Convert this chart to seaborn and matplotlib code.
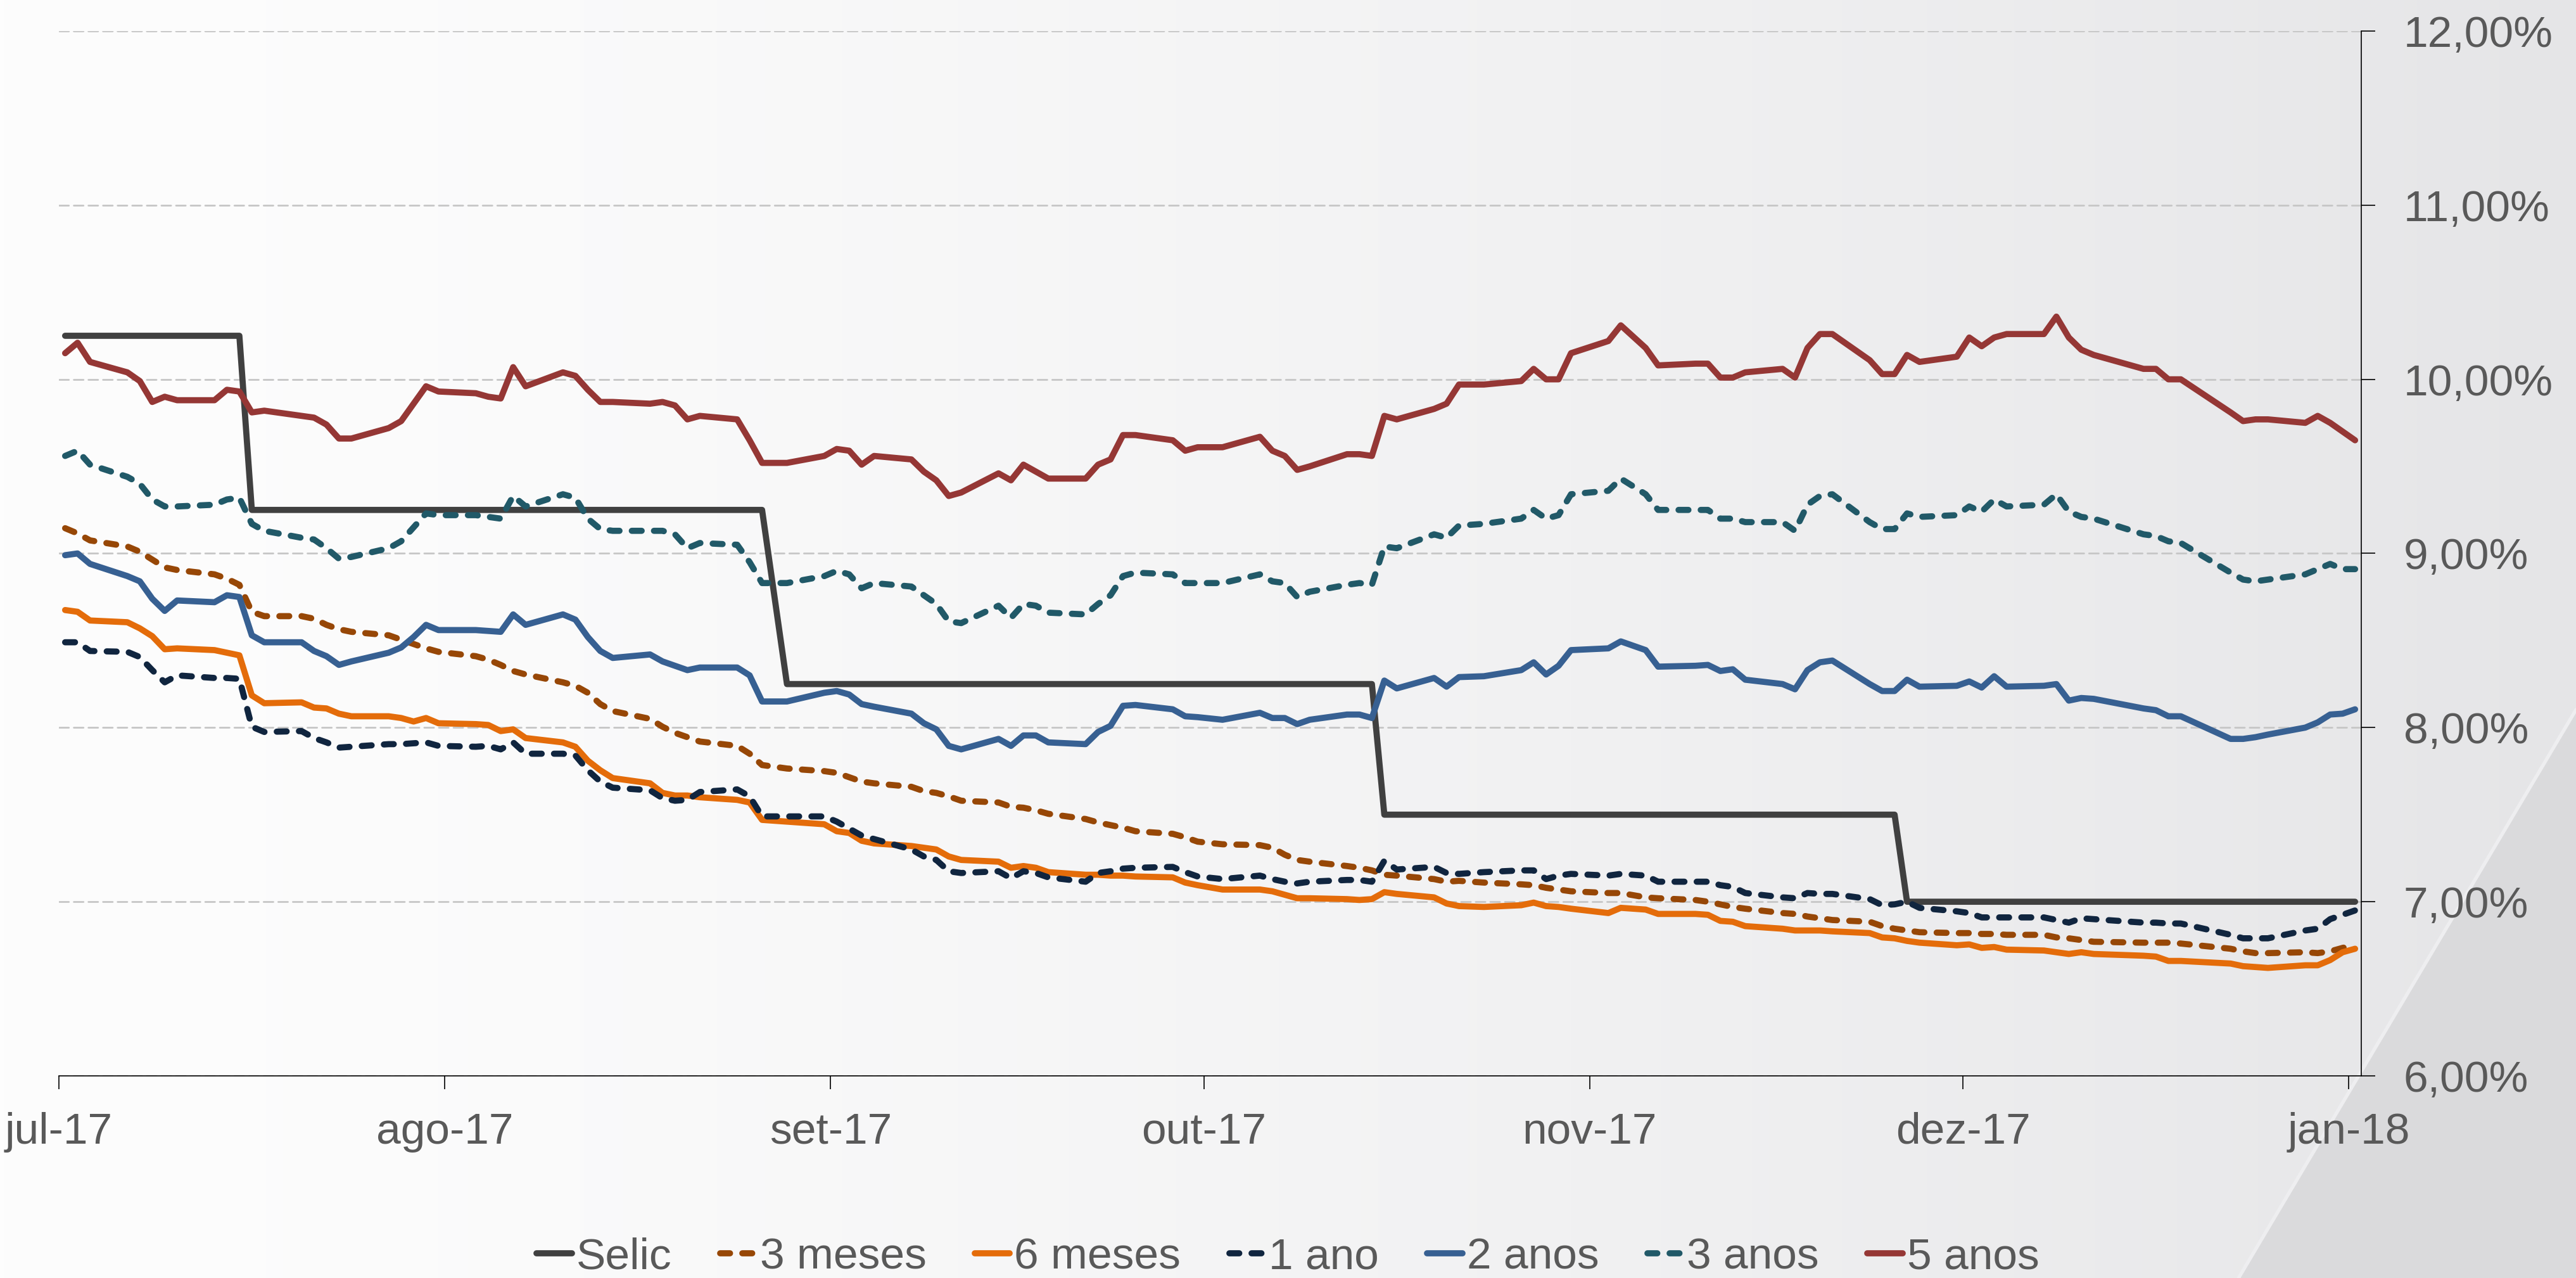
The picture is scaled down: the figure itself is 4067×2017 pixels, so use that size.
import matplotlib
matplotlib.use("Agg")
import matplotlib.pyplot as plt
from matplotlib.ticker import FuncFormatter
from matplotlib.patches import Polygon
import numpy as np
import pandas as pd
import seaborn as sns

# periodo (dias uteis) e feriados
inicio = "2017-07-12"
fim = "2018-01-12"
feriados = ["2017-09-07", "2017-10-12", "2017-11-02", "2017-11-15", "2017-12-25", "2018-01-01"]

# Selic: inicio de vigencia e taxa
selic_inicio = ["2017-07-12", "2017-07-27", "2017-09-08", "2017-10-26", "2017-12-07"]
selic_taxa = [10.25, 9.25, 8.25, 7.50, 7.00]

# taxas diarias, uma linha por semana
taxa_3m = [9.145, 9.115, 9.075,
           9.04, 9.01, 8.965, 8.92, 8.905,
           8.88, 8.855, 8.82, 8.665, 8.64,
           8.64, 8.625, 8.59, 8.565, 8.55,
           8.53, 8.505, 8.48, 8.455, 8.435,
           8.41, 8.39, 8.36, 8.325, 8.305,
           8.26, 8.24, 8.20, 8.135, 8.095,
           8.05, 8.005, 7.97, 7.945, 7.92,
           7.895, 7.85, 7.785, 7.765,
           7.75, 7.74, 7.715, 7.69, 7.68,
           7.66, 7.635, 7.625, 7.605, 7.58,
           7.57, 7.545, 7.54, 7.525, 7.505,
           7.475, 7.455, 7.44, 7.425, 7.405,
           7.39, 7.37, 7.345, 7.33,
           7.325, 7.31, 7.27, 7.24, 7.23,
           7.205, 7.195, 7.18, 7.155, 7.15,
           7.13, 7.115, 7.12, 7.11,
           7.10, 7.095, 7.08, 7.07, 7.06,
           7.05, 7.05, 7.025, 7.02,
           7.01, 7.00, 6.985, 6.97, 6.96,
           6.935, 6.93, 6.915, 6.905, 6.895,
           6.885, 6.86, 6.845, 6.835, 6.825,
           6.82, 6.82, 6.815, 6.815, 6.81,
           6.81, 6.795, 6.79, 6.78, 6.77,
           6.765, 6.765, 6.765, 6.76,
           6.73, 6.715, 6.705, 6.705,
           6.71, 6.705, 6.715, 6.735, 6.75]

taxa_6m = [8.675, 8.665, 8.615,
           8.605, 8.57, 8.525, 8.45, 8.455,
           8.445, 8.43, 8.415, 8.185, 8.14,
           8.145, 8.115, 8.11, 8.08, 8.065,
           8.065, 8.055, 8.035, 8.055, 8.025,
           8.02, 8.015, 7.98, 7.99, 7.94,
           7.915, 7.89, 7.81, 7.755, 7.71,
           7.68, 7.625, 7.61, 7.61, 7.60,
           7.585, 7.57, 7.47, 7.46,
           7.445, 7.405, 7.395, 7.35, 7.335,
           7.32, 7.31, 7.30, 7.26, 7.24,
           7.23, 7.195, 7.205, 7.195, 7.17,
           7.155, 7.155, 7.15, 7.15, 7.145,
           7.14, 7.11, 7.095, 7.07,
           7.07, 7.06, 7.04, 7.02, 7.02,
           7.015, 7.01, 7.015, 7.055, 7.045,
           7.025, 6.99, 6.975, 6.97,
           6.98, 6.995, 6.975, 6.97, 6.96,
           6.935, 6.965, 6.955, 6.93,
           6.93, 6.925, 6.89, 6.885, 6.86,
           6.845, 6.835, 6.835, 6.835, 6.83,
           6.82, 6.795, 6.79, 6.775, 6.765,
           6.75, 6.755, 6.735, 6.74, 6.725,
           6.72, 6.71, 6.70, 6.71, 6.70,
           6.69, 6.685, 6.66, 6.66,
           6.645, 6.63, 6.625, 6.62,
           6.635, 6.635, 6.665, 6.71, 6.73]

taxa_1a = [8.49, 8.49, 8.44,
           8.435, 8.405, 8.33, 8.26, 8.30,
           8.285, 8.285, 8.28, 8.005, 7.975,
           7.98, 7.94, 7.915, 7.885, 7.89,
           7.905, 7.905, 7.91, 7.915, 7.895,
           7.89, 7.895, 7.875, 7.915, 7.85,
           7.85, 7.84, 7.755, 7.69, 7.655,
           7.64, 7.595, 7.58, 7.585, 7.63,
           7.645, 7.605, 7.49, 7.49,
           7.49, 7.46, 7.42, 7.38, 7.36,
           7.30, 7.26, 7.24, 7.175, 7.165,
           7.175, 7.135, 7.175, 7.165, 7.14,
           7.115, 7.165, 7.175, 7.19, 7.195,
           7.20, 7.17, 7.145, 7.13,
           7.15, 7.13, 7.115, 7.105, 7.115,
           7.125, 7.125, 7.115, 7.235, 7.185,
           7.20, 7.165, 7.16, 7.17,
           7.18, 7.18, 7.13, 7.15, 7.16,
           7.15, 7.16, 7.15, 7.115,
           7.115, 7.115, 7.095, 7.085, 7.05,
           7.025, 7.02, 7.05, 7.045, 7.045,
           7.015, 6.98, 6.985, 7.00, 6.965,
           6.945, 6.935, 6.91, 6.91, 6.91,
           6.91, 6.895, 6.88, 6.905, 6.90,
           6.88, 6.88, 6.875, 6.875,
           6.81, 6.79, 6.79, 6.79,
           6.835, 6.845, 6.90, 6.925, 6.95]

taxa_2a = [8.99, 9.00, 8.94,
           8.87, 8.84, 8.74, 8.67, 8.73,
           8.72, 8.76, 8.75, 8.53, 8.49,
           8.49, 8.44, 8.41, 8.36, 8.38,
           8.43, 8.46, 8.52, 8.59, 8.56,
           8.56, 8.555, 8.55, 8.65, 8.59,
           8.65, 8.62, 8.52, 8.44, 8.40,
           8.42, 8.38, 8.355, 8.33, 8.345,
           8.345, 8.30, 8.15, 8.15,
           8.20, 8.21, 8.19, 8.135, 8.12,
           8.08, 8.025, 7.99, 7.895, 7.875,
           7.935, 7.895, 7.955, 7.955, 7.915,
           7.905, 7.975, 8.01, 8.125, 8.13,
           8.105, 8.065, 8.06, 8.045,
           8.085, 8.055, 8.055, 8.02, 8.045,
           8.075, 8.075, 8.055, 8.27, 8.225,
           8.285, 8.235, 8.29, 8.295,
           8.33, 8.375, 8.305, 8.355, 8.445,
           8.455, 8.495, 8.445, 8.35,
           8.355, 8.36, 8.325, 8.335, 8.275,
           8.25, 8.22, 8.33, 8.375, 8.385,
           8.25, 8.21, 8.21, 8.275, 8.235,
           8.24, 8.265, 8.23, 8.295, 8.235,
           8.24, 8.25, 8.155, 8.17, 8.165,
           8.11, 8.10, 8.065, 8.065,
           7.935, 7.935, 7.945, 7.96,
           8.00, 8.03, 8.075, 8.08, 8.105]

taxa_3a = [9.56, 9.59, 9.51,
           9.44, 9.40, 9.31, 9.27, 9.27,
           9.28, 9.31, 9.32, 9.17, 9.13,
           9.09, 9.08, 9.03, 8.97, 8.98,
           9.03, 9.07, 9.15, 9.23, 9.22,
           9.22, 9.21, 9.20, 9.33, 9.27,
           9.34, 9.32, 9.20, 9.14, 9.13,
           9.13, 9.13, 9.11, 9.03, 9.06,
           9.05, 8.95, 8.83, 8.83,
           8.87, 8.90, 8.88, 8.80, 8.83,
           8.81, 8.76, 8.71, 8.61, 8.60,
           8.70, 8.63, 8.71, 8.70, 8.66,
           8.65, 8.71, 8.76, 8.87, 8.89,
           8.88, 8.83, 8.83, 8.83,
           8.88, 8.84, 8.83, 8.75, 8.78,
           8.82, 8.83, 8.82, 9.04, 9.03,
           9.11, 9.09, 9.16, 9.17,
           9.20, 9.25, 9.20, 9.22, 9.34,
           9.36, 9.43, 9.34, 9.25,
           9.25, 9.25, 9.20, 9.20, 9.18,
           9.18, 9.13, 9.28, 9.33, 9.34,
           9.18, 9.14, 9.14, 9.23, 9.21,
           9.22, 9.27, 9.24, 9.31, 9.27,
           9.28, 9.34, 9.24, 9.21, 9.20,
           9.11, 9.10, 9.07, 9.06,
           8.89, 8.85, 8.84, 8.85,
           8.88, 8.91, 8.94, 8.91, 8.91]

taxa_5a = [10.15, 10.21, 10.10,
           10.04, 9.99, 9.87, 9.90, 9.88,
           9.88, 9.94, 9.93, 9.81, 9.82,
           9.79, 9.78, 9.74, 9.66, 9.66,
           9.72, 9.76, 9.86, 9.96, 9.93,
           9.92, 9.90, 9.89, 10.07, 9.96,
           10.04, 10.02, 9.94, 9.87, 9.87,
           9.86, 9.87, 9.85, 9.77, 9.79,
           9.77, 9.65, 9.52, 9.52,
           9.56, 9.60, 9.59, 9.51, 9.56,
           9.54, 9.47, 9.42, 9.33, 9.35,
           9.46, 9.42, 9.51, 9.47, 9.43,
           9.43, 9.51, 9.54, 9.68, 9.68,
           9.65, 9.59, 9.61, 9.61,
           9.67, 9.59, 9.56, 9.48, 9.50,
           9.57, 9.57, 9.56, 9.79, 9.77,
           9.83, 9.86, 9.97, 9.97,
           9.99, 10.06, 10.00, 10.00, 10.15,
           10.22, 10.31, 10.18, 10.08,
           10.09, 10.09, 10.01, 10.01, 10.04,
           10.06, 10.01, 10.18, 10.26, 10.26,
           10.11, 10.03, 10.03, 10.14, 10.10,
           10.13, 10.24, 10.19, 10.24, 10.26,
           10.26, 10.36, 10.24, 10.17, 10.14,
           10.06, 10.06, 10.00, 10.00,
           9.81, 9.76, 9.77, 9.77,
           9.75, 9.79, 9.75, 9.70, 9.65]

series = ["Selic", "3 meses", "6 meses", "1 ano", "2 anos", "3 anos", "5 anos"]
cores = ["#404040", "#974706", "#E46C0A", "#10253F", "#376092", "#215968", "#953735"]
tracos = ["", (1.6, 2.0), "", (1.6, 2.0), "", (1.6, 2.0), ""]

meses = ["jul-17", "ago-17", "set-17", "out-17", "nov-17", "dez-17", "jan-18"]
meses_pos = ["2017-07-12", "2017-08-12", "2017-09-12", "2017-10-12",
             "2017-11-12", "2017-12-12", "2018-01-12"]

# monta tabela longa
dias = pd.bdate_range(inicio, fim, freq="C", holidays=feriados)
selic = pd.Series(selic_taxa, index=pd.to_datetime(selic_inicio)).reindex(dias, method="ffill")
tab = pd.DataFrame({"data": dias + pd.Timedelta(hours=12),  # excel poe o ponto no meio do dia
                    "Selic": selic.values,
                    "3 meses": taxa_3m, "6 meses": taxa_6m, "1 ano": taxa_1a,
                    "2 anos": taxa_2a, "3 anos": taxa_3a, "5 anos": taxa_5a})
longo = tab.melt(id_vars="data", var_name="serie", value_name="taxa")

sns.set_style("white")
plt.rcParams["font.family"] = ["Liberation Sans", "DejaVu Sans"]
plt.rcParams["lines.solid_capstyle"] = "round"
plt.rcParams["lines.dash_capstyle"] = "round"
plt.rcParams["lines.solid_joinstyle"] = "round"
plt.rcParams["lines.dash_joinstyle"] = "round"

cinza_txt = "#595959"
larg = 7.0
fig = plt.figure(figsize=(40.67, 20.17), dpi=100)

# fundo com degrade e dobra no canto
fundo = fig.add_axes([0, 0, 1, 1], zorder=-10)
fundo.axis("off")
t = np.linspace(0, 1, 600) ** 1.4
c0 = np.array([253, 253, 253]) / 255
c1 = np.array([229, 229, 231]) / 255
grad = c0[None, :] + (c1 - c0)[None, :] * t[:, None]
fundo.imshow(grad[None, :, :], extent=[0, 1, 0, 1], aspect="auto", transform=fundo.transAxes)
fundo.add_patch(Polygon([(0.8690, 0), (1, 0), (1, 0.4447)], closed=True,
                        facecolor="#dadadc", edgecolor="none", transform=fundo.transAxes))
fundo.plot([0.8690, 1], [0, 0.4447], color="#eeeef0", lw=4, transform=fundo.transAxes)
fundo.set_xlim(0, 1)
fundo.set_ylim(0, 1)

ax = fig.add_axes([0.02287, 0.15816, 0.89378, 0.81755])
ax.patch.set_alpha(0)

sns.lineplot(data=longo, x="data", y="taxa", hue="serie", style="serie",
             hue_order=series, style_order=series, palette=cores,
             dashes=dict(zip(series, tracos)), linewidth=larg,
             estimator=None, sort=False, ax=ax)
for linha in ax.lines:
    linha.set_linewidth(larg)

ax.set_ylim(6, 12)
ax.set_yticks(range(6, 13))
ax.yaxis.set_major_formatter(FuncFormatter(lambda v, p: f"{v:.2f}%".replace(".", ",")))
ax.yaxis.tick_right()
ax.set_xlim(pd.Timestamp("2017-07-12"), pd.Timestamp("2018-01-13"))
ax.set_xticks(pd.to_datetime(meses_pos))
ax.set_xticklabels(meses)
ax.set_xlabel("")
ax.set_ylabel("")

for lado in ["left", "top"]:
    ax.spines[lado].set_visible(False)
for lado in ["right", "bottom"]:
    ax.spines[lado].set_color("black")
    ax.spines[lado].set_linewidth(1.2)

ax.tick_params(axis="y", direction="out", length=16, width=1.2, color="black",
               pad=32, labelsize=50, labelcolor=cinza_txt, right=True, left=False)
ax.tick_params(axis="x", direction="out", length=15, width=1.2, color="black",
               pad=26, labelsize=50, labelcolor=cinza_txt, bottom=True)
ax.set_axisbelow(True)
ax.yaxis.grid(True, color="#c6c6c6", linestyle=(0, (5.5, 2.8)), linewidth=2)
ax.xaxis.grid(False)

h, l = ax.get_legend_handles_labels()
for linha in h:
    linha.set_linewidth(larg)
ax.get_legend().remove()
fig.legend(h, l, loc="center", bbox_to_anchor=(0.5, 0.016), ncol=7, frameon=False,
           fontsize=50, handlelength=0.8, handletextpad=0.1, columnspacing=1.1,
           labelcolor=cinza_txt, borderpad=0)

fig.savefig("out.png", dpi=100)
